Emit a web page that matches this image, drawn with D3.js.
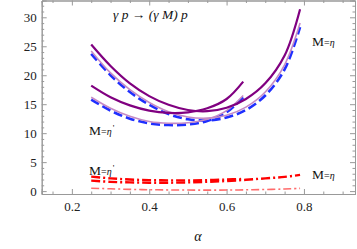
<!DOCTYPE html>
<html>
<head>
<meta charset="utf-8">
<script src="https://cdn.jsdelivr.net/npm/d3@7"></script>
<style>
  body { margin: 0; background: #fff; }
  svg { display: block; }
  .tick text { font-family: "Liberation Serif", serif; font-size: 13px; fill: #222; }
</style>
</head>
<body>
<svg id="chart" width="357" height="249"></svg>
<script>
// alpha sample points for each curve
const alphaEta = [0.25, 0.3, 0.35, 0.4, 0.45, 0.5, 0.55, 0.6, 0.65, 0.7, 0.75, 0.79];
const alphaEtaP = [0.25, 0.3, 0.35, 0.4, 0.45, 0.5, 0.55, 0.6, 0.643];

// M = eta (upper group, runs to 0.79)
const etaSolid = [25.3, 21.6, 18.6, 16.4, 14.9, 14.0, 13.8, 14.4, 15.9, 18.6, 23.4, 31.4];
const etaLight = [24.2, 20.4, 17.5, 15.3, 13.7, 12.8, 12.6, 13.1, 14.5, 17.1, 21.8, 29.0];
const etaDashed = [23.7, 20.0, 17.1, 14.9, 13.3, 12.4, 12.2, 12.7, 14.0, 16.5, 21.0, 28.3];
// M = eta' (lower group, stops at 0.643)
const etaPSolid = [18.2, 16.2, 14.8, 13.9, 13.5, 13.6, 14.3, 15.9, 18.9];
const etaPLight = [16.2, 14.3, 12.9, 12.0, 11.7, 11.8, 12.4, 13.9, 16.5];
const etaPDashed = [15.8, 13.9, 12.5, 11.7, 11.4, 11.5, 12.1, 13.6, 16.2];
// red dash-dot curves
const etaRed = [1.8, 1.6, 1.5, 1.45, 1.45, 1.5, 1.6, 1.75, 1.95, 2.2, 2.45, 2.8];
const etaRedLight = [0.5, 0.4, 0.3, 0.24, 0.2, 0.18, 0.17, 0.18, 0.22, 0.28, 0.36, 0.47];
const etaPRed = [2.5, 2.2, 2.0, 1.9, 1.85, 1.85, 1.9, 2.0, 2.1];

const xMajor = [0.2, 0.4, 0.6, 0.8];
const yMajor = [0, 5, 10, 15, 20, 25, 30];

const svg = d3.select("#chart");
const x = d3.scaleLinear().domain([0.122, 0.932]).range([41.7, 355]);
const y = d3.scaleLinear().domain([-0.5, 32.9]).range([194, 0.5]);

const xMinor = d3.range(0.15, 0.93, 0.05).filter(v => !xMajor.some(m => Math.abs(m - v) < 1e-6));
const yMinor = d3.range(0, 33, 1).filter(v => v % 5 !== 0);

const frameColor = "#999";
function styleAxis(g) {
  g.select(".domain").attr("stroke", frameColor);
  g.selectAll(".tick line").attr("stroke", frameColor);
}

// bottom / top
svg.append("g").attr("transform", "translate(0,194)")
  .call(d3.axisBottom(x).tickValues(xMajor).tickSize(-5).tickPadding(8).tickFormat(d3.format(".1f")))
  .call(styleAxis);
svg.append("g").attr("transform", "translate(0,194)")
  .call(d3.axisBottom(x).tickValues(xMinor).tickSize(-2.5).tickFormat(""))
  .call(styleAxis);
svg.append("g").attr("transform", "translate(0,0.5)")
  .call(d3.axisTop(x).tickValues(xMajor).tickSize(-5).tickFormat(""))
  .call(styleAxis);
svg.append("g").attr("transform", "translate(0,0.5)")
  .call(d3.axisTop(x).tickValues(xMinor).tickSize(-2.5).tickFormat(""))
  .call(styleAxis);

// left / right
svg.append("g").attr("transform", "translate(41.7,0)")
  .call(d3.axisLeft(y).tickValues(yMajor).tickSize(-5).tickPadding(5))
  .call(styleAxis);
svg.append("g").attr("transform", "translate(41.7,0)")
  .call(d3.axisLeft(y).tickValues(yMinor).tickSize(-2.5).tickFormat(""))
  .call(styleAxis);
svg.append("g").attr("transform", "translate(355,0)")
  .call(d3.axisRight(y).tickValues(yMajor).tickSize(-5).tickFormat(""))
  .call(styleAxis);
svg.append("g").attr("transform", "translate(355,0)")
  .call(d3.axisRight(y).tickValues(yMinor).tickSize(-2.5).tickFormat(""))
  .call(styleAxis);

const line = d3.line()
  .x(d => x(d[0]))
  .y(d => y(d[1]))
  .curve(d3.curveCatmullRom.alpha(0.5));

const curves = [
  { a: alphaEtaP, v: etaPDashed, color: "#1f2fff", width: 2.6, dash: "9,4" },
  { a: alphaEta, v: etaDashed, color: "#1f2fff", width: 2.6, dash: "9,4" },
  { a: alphaEtaP, v: etaPLight, color: "#c58ac5", width: 1.6, dash: null },
  { a: alphaEta, v: etaLight, color: "#c58ac5", width: 1.6, dash: null },
  { a: alphaEtaP, v: etaPSolid, color: "#800080", width: 2.2, dash: null },
  { a: alphaEta, v: etaSolid, color: "#800080", width: 2.2, dash: null },
  { a: alphaEta, v: etaRedLight, color: "#ff6b6b", width: 1.6, dash: "8,3,2,3" },
  { a: alphaEta, v: etaRed, color: "#ff0000", width: 2.4, dash: "9,3,2,3" },
  { a: alphaEtaP, v: etaPRed, color: "#ff0000", width: 2.4, dash: "9,3,2,3" }
];

svg.append("g").selectAll("path")
  .data(curves)
  .join("path")
  .attr("d", c => line(c.a.map((a, i) => [a, c.v[i]])))
  .attr("fill", "none")
  .attr("stroke", d => d.color)
  .attr("stroke-width", d => d.width)
  .attr("stroke-dasharray", d => d.dash);

// labels
const serif = "'Liberation Serif', serif";
svg.append("text")
  .attr("x", 113).attr("y", 19)
  .attr("font-family", serif).attr("font-size", 13.5).attr("font-style", "italic")
  .attr("fill", "#111")
  .text("γ p → (γ M) p");

function massLabel(px, py, prime) {
  const t = svg.append("text").attr("x", px).attr("y", py)
    .attr("font-family", serif).attr("fill", "#111");
  t.append("tspan").attr("font-size", 13.5).text("M");
  t.append("tspan").attr("font-size", 10).text("=");
  t.append("tspan").attr("font-size", 10).attr("font-style", "italic").text("η");
  if (prime) t.append("tspan").attr("font-size", 9).attr("dx", 1).attr("dy", -4).text("'");
}
massLabel(312, 46, false);
massLabel(89, 135, true);
massLabel(89, 175, true);
massLabel(312, 179, false);

svg.append("text")
  .attr("x", 198).attr("y", 241).attr("text-anchor", "middle")
  .attr("font-family", serif).attr("font-size", 14).attr("font-style", "italic")
  .attr("fill", "#111")
  .text("α");
</script>
</body>
</html>
